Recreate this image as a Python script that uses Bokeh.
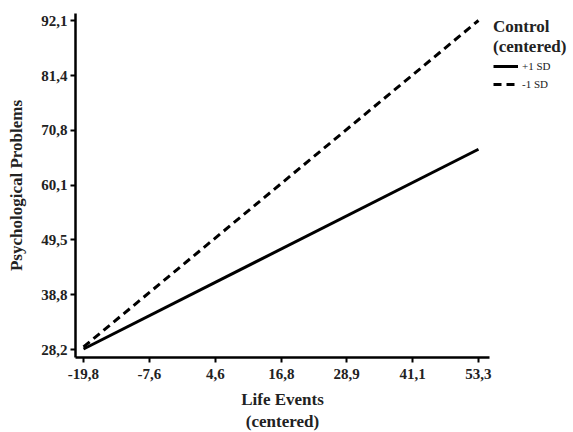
from bokeh.plotting import figure
from bokeh.models import FixedTicker, Legend, LegendItem, Range1d
from bokeh.embed import file_html
from bokeh.resources import INLINE

# Data
x_ticks = [-19.8, -7.6, 4.6, 16.8, 28.9, 41.1, 53.3]
y_ticks = [28.2, 38.8, 49.5, 60.1, 70.8, 81.4, 92.1]
x_vals = [-19.8, 53.3]
plus_sd = [28.3, 67.1]
minus_sd = [28.7, 92.1]
series_names = ["+1 SD", "-1 SD"]

def fmt(v):
    return f"{v:.1f}".replace(".", ",")

p = figure(width=568, height=432, output_backend="svg", toolbar_location=None,
           x_range=Range1d(-21.28, 55.34), y_range=Range1d(26.65, 93.46),
           min_border_left=75, min_border_top=13, min_border_right=79, min_border_bottom=75)
p.frame_width = 414
p.frame_height = 344

p.outline_line_color = None
p.xgrid.visible = False
p.ygrid.visible = False
p.background_fill_color = "white"

r1 = p.line(x_vals, plus_sd, line_color="black", line_width=3)
r2 = p.line(x_vals, minus_sd, line_color="black", line_width=3, line_dash="8 5")

for ax, ticks in ((p.xaxis[0], x_ticks), (p.yaxis[0], y_ticks)):
    ax.ticker = FixedTicker(ticks=ticks)
    ax.major_label_overrides = {t: fmt(t) for t in ticks}
    ax.minor_tick_line_color = None
    ax.axis_line_width = 2.5
    ax.axis_line_color = "black"
    ax.major_tick_line_width = 2
    ax.major_tick_line_color = "black"
    ax.major_tick_out = 5
    ax.major_tick_in = 0
    ax.major_label_text_font = "Liberation Serif"
    ax.major_label_text_font_style = "bold"
    ax.major_label_text_font_size = "15px"
    ax.major_label_text_color = "#222222"
    ax.axis_label_text_font = "Liberation Serif"
    ax.axis_label_text_font_style = "bold"
    ax.axis_label_text_font_size = "17px"
    ax.axis_label_text_color = "#222222"

p.xaxis[0].axis_label = "Life Events\n(centered)"
p.xaxis[0].axis_label_standoff = 8
p.xaxis[0].major_label_standoff = 6
p.yaxis[0].axis_label = "Psychological Problems"
p.yaxis[0].axis_label_standoff = 12
p.yaxis[0].major_label_standoff = 3

legend = Legend(items=[LegendItem(label=series_names[0], renderers=[r1]),
                       LegendItem(label=series_names[1], renderers=[r2])],
                title="Control\n(centered)", location="top_left",
                border_line_color=None, background_fill_alpha=0,
                label_text_font="Liberation Serif", label_text_font_size="11px",
                label_text_color="#222222", title_text_color="#222222",
                title_text_font="Liberation Serif", title_text_font_style="bold",
                title_text_font_size="17px", glyph_width=25, glyph_height=18,
                label_standoff=4, label_height=18, spacing=0, padding=0, margin=4,
                title_standoff=0)
p.add_layout(legend, "right")

open("out.html", "w").write(file_html(p, INLINE))
